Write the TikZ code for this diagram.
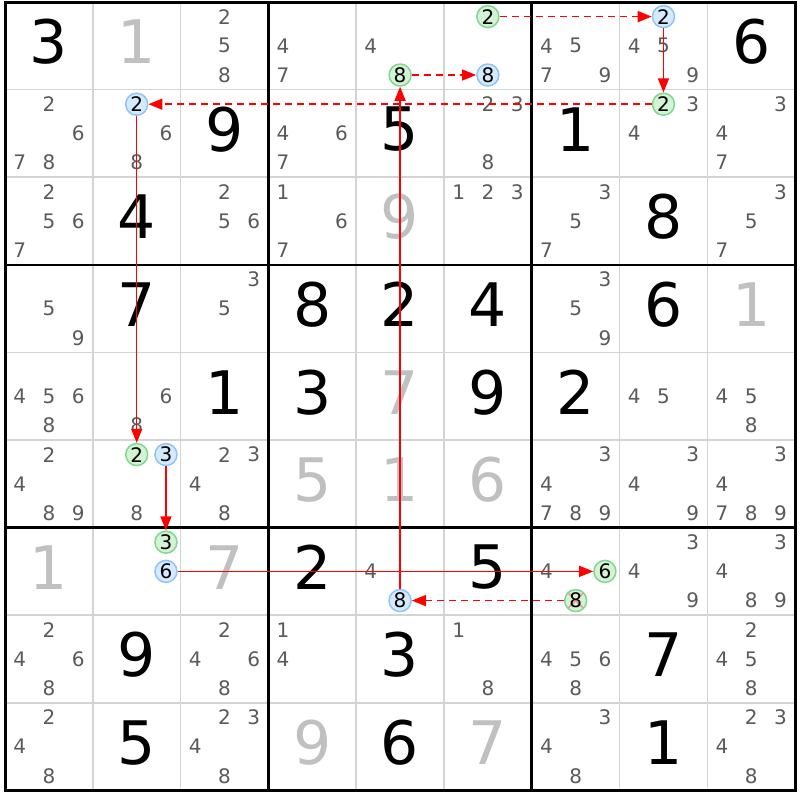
\documentclass[tikz,border=0pt]{standalone}
\usepackage{fontspec}
\setmainfont{DejaVu Sans}
\usetikzlibrary{arrows.meta}

\definecolor{candgray}{RGB}{90,90,90}
\definecolor{fadedgray}{RGB}{192,192,192}
\definecolor{thingray}{RGB}{212,212,212}
\definecolor{bluefill}{RGB}{214,234,255}
\definecolor{blueline}{RGB}{144,196,248}
\definecolor{greenfill}{RGB}{212,242,212}
\definecolor{greenline}{RGB}{128,216,144}
\definecolor{linkred}{RGB}{255,0,0}
\definecolor{killred}{RGB}{240,150,150}

% one candidate in its small 3x3 place
\newcommand{\candat}[4][cand]{%
  \pgfmathsetmacro{\sx}{mod(#4-1,3)}%
  \pgfmathsetmacro{\sy}{int((#4-1)/3)}%
  \node[#1] (c#2#3#4) at ({#3+(\sx+0.5)/3},{#2+(\sy+0.5)/3}) {#4};}
\newcommand{\cands}[3]{\foreach \d in {#3} {\candat{#1}{#2}{\d}}}
% a placed value
\newcommand{\cellval}[4][given]{%
  \node[#1] (v#2#3) at ({#3+0.5},{#2+0.455}) {#4};}

\tikzset{
  given/.style={inner sep=0pt, font=\fontsize{60}{60}\selectfont},
  faded/.style={given, text=fadedgray},
  cand/.style={circle, inner sep=0pt, minimum size=22pt,
    font=\fontsize{20}{20}\selectfont, text=candgray},
  bluecand/.style={cand, text=black, draw=blueline, fill=bluefill, line width=1.5pt},
  greencand/.style={cand, text=black, draw=greenline, fill=greenfill, line width=1.5pt},
  killed/.style={greencand, path picture={
    \draw[killred, line width=1.5pt]
      ([shift={(3pt,-3pt)}]path picture bounding box.north west) --
      ([shift={(-3pt,3pt)}]path picture bounding box.south east)
      ([shift={(-3pt,-3pt)}]path picture bounding box.north east) --
      ([shift={(3pt,3pt)}]path picture bounding box.south west);}},
  strong/.style={color=linkred, line width=1.4pt, -{Triangle[length=14pt,width=11pt]}},
  weak/.style={strong, line width=1.5pt, dash pattern=on 7pt off 5pt},
}

\begin{document}
\begin{tikzpicture}[x=87.8pt,y=-87.6pt]
  \path[use as bounding box, fill=white] (-0.057,-0.023) rectangle (9.055,9.110);

  % Grid
  \foreach \i in {1,2,4,5,7,8} {
    \draw[thingray, line width=1.5pt] (\i,0) -- (\i,9);
    \draw[thingray, line width=1.5pt] (0,\i) -- (9,\i);
  }
  \foreach \i in {3,6} {
    \draw[line width=2.6pt] (\i,0) -- (\i,9);
    \draw[line width=2.6pt] (0,\i) -- (9,\i);
  }
  \draw[line width=3pt] (0,0) rectangle (9,9);

  % Row 0
  \cellval{0}{0}{3}
  \cellval[faded]{0}{1}{1}
  \cands{0}{2}{2,5,8}
  \cands{0}{3}{4,7}
  \cands{0}{4}{4}
  \candat[greencand]{0}{4}{8}
  \candat[greencand]{0}{5}{2}
  \candat[bluecand]{0}{5}{8}
  \cands{0}{6}{4,5,7,9}
  \candat[bluecand]{0}{7}{2}
  \cands{0}{7}{4,5,9}
  \cellval{0}{8}{6}

  % Row 1
  \cands{1}{0}{2,6,7,8}
  \candat[bluecand]{1}{1}{2}
  \cands{1}{1}{6,8}
  \cellval{1}{2}{9}
  \cands{1}{3}{4,6,7}
  \cellval{1}{4}{5}
  \cands{1}{5}{2,3,8}
  \cellval{1}{6}{1}
  \candat[greencand]{1}{7}{2}
  \cands{1}{7}{3,4}
  \cands{1}{8}{3,4,7}

  % Row 2
  \cands{2}{0}{2,5,6,7}
  \cellval{2}{1}{4}
  \cands{2}{2}{2,5,6}
  \cands{2}{3}{1,6,7}
  \cellval[faded]{2}{4}{9}
  \cands{2}{5}{1,2,3}
  \cands{2}{6}{3,5,7}
  \cellval{2}{7}{8}
  \cands{2}{8}{3,5,7}

  % Row 3
  \cands{3}{0}{5,9}
  \cellval{3}{1}{7}
  \cands{3}{2}{3,5}
  \cellval{3}{3}{8}
  \cellval{3}{4}{2}
  \cellval{3}{5}{4}
  \cands{3}{6}{3,5,9}
  \cellval{3}{7}{6}
  \cellval[faded]{3}{8}{1}

  % Row 4
  \cands{4}{0}{4,5,6,8}
  \cands{4}{1}{6,8}
  \cellval{4}{2}{1}
  \cellval{4}{3}{3}
  \cellval[faded]{4}{4}{7}
  \cellval{4}{5}{9}
  \cellval{4}{6}{2}
  \cands{4}{7}{4,5}
  \cands{4}{8}{4,5,8}

  % Row 5
  \cands{5}{0}{2,4,8,9}
  \candat[greencand]{5}{1}{2}
  \candat[bluecand]{5}{1}{3}
  \cands{5}{1}{8}
  \cands{5}{2}{2,3,4,8}
  \cellval[faded]{5}{3}{5}
  \cellval[faded]{5}{4}{1}
  \cellval[faded]{5}{5}{6}
  \cands{5}{6}{3,4,7,8,9}
  \cands{5}{7}{3,4,9}
  \cands{5}{8}{3,4,7,8,9}

  % Row 6
  \cellval[faded]{6}{0}{1}
  \candat[greencand]{6}{1}{3}
  \candat[bluecand]{6}{1}{6}
  \cellval[faded]{6}{2}{7}
  \cellval{6}{3}{2}
  \cands{6}{4}{4}
  \candat[bluecand]{6}{4}{8}
  \cellval{6}{5}{5}
  \cands{6}{6}{4}
  \candat[greencand]{6}{6}{6}
  \candat[killed]{6}{6}{8}
  \cands{6}{7}{3,4,9}
  \cands{6}{8}{3,4,8,9}

  % Row 7
  \cands{7}{0}{2,4,6,8}
  \cellval{7}{1}{9}
  \cands{7}{2}{2,4,6,8}
  \cands{7}{3}{1,4}
  \cellval{7}{4}{3}
  \cands{7}{5}{1,8}
  \cands{7}{6}{4,5,6,8}
  \cellval{7}{7}{7}
  \cands{7}{8}{2,4,5,8}

  % Row 8
  \cands{8}{0}{2,4,8}
  \cellval{8}{1}{5}
  \cands{8}{2}{2,3,4,8}
  \cellval[faded]{8}{3}{9}
  \cellval{8}{4}{6}
  \cellval[faded]{8}{5}{7}
  \cands{8}{6}{3,4,8}
  \cellval{8}{7}{1}
  \cands{8}{8}{2,3,4,8}

  % Chain
  \draw[weak]   (c052) -- (c072);
  \draw[strong] (c072) -- (c172);
  \draw[weak]   (c172) -- (c112);
  \draw[strong] (c112) -- (c512);
  \draw[strong] (c513) -- (c613);
  \draw[strong] (c616) -- (c666);
  \draw[weak]   (c668) -- (c648);
  \draw[strong] (c648) -- (c048);
  \draw[weak]   (c048) -- (c058);
\end{tikzpicture}
\end{document}
